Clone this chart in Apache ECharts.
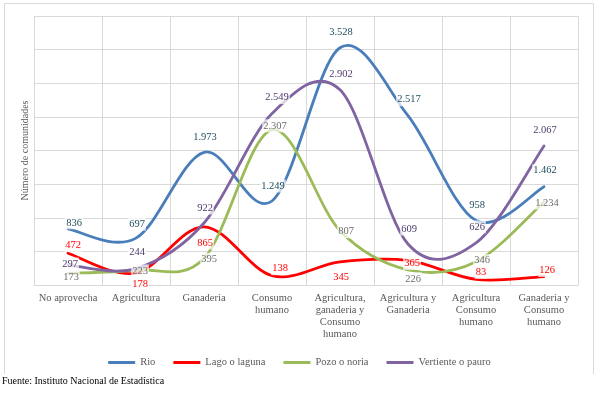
<!DOCTYPE html>
<html>
<head>
<meta charset="utf-8">
<script src="https://cdn.jsdelivr.net/npm/echarts@6/dist/echarts.min.js"></script>
<style>
  html, body { margin: 0; padding: 0; background: #fff; }
  #chart { width: 599px; height: 397px; }
</style>
</head>
<body>
<div id="chart"></div>
<script>
const categories = [
  "No aprovecha",
  "Agricultura",
  "Ganaderia",
  "Consumo\nhumano",
  "Agricultura,\nganaderia y\nConsumo\nhumano",
  "Agricultura y\nGanaderia",
  "Agricultura\nConsumo\nhumano",
  "Ganaderia y\nConsumo\nhumano",
];

const rio = [836, 697, 1973, 1249, 3528, 2517, 958, 1462];
const lago = [472, 178, 865, 138, 345, 365, 83, 126];
const pozo = [173, 223, 395, 2307, 807, 226, 346, 1234];
const vertiente = [297, 244, 922, 2549, 2902, 609, 626, 2067];

// label nudges (px) so the labels sit like in the original
const rioOffsets = [[6, -6], [1, -14], [1, -15], [1, -15], [1, -15], [1, -16], [1, -15], [1, -16]];
const lagoOffsets = [[5, -8], [4, 11], [1, 16], [8, -7], [1, 15], [4, 3], [5, -7], [3, -6]];
const pozoOffsets = [[3, 4], [4, 1], [5, 1], [3, -4], [6, 1], [5, 9], [6, -1], [3, 1]];
const vertienteOffsets = [[2, -1], [1, -16], [1, -15], [5, -16], [1, -16], [1, -15], [1, -16], [1, -16]];

const serif = "Liberation Serif";

// 3528 -> "3.528"
const fmt = (v) => String(v).replace(/\B(?=(\d{3})+(?!\d))/g, ".");

// Excel style smoothed line (catmull-rom through the points)
function curveSeries(name, values, color) {
  return {
    name: name,
    type: "custom",
    z: 1,
    silent: true,
    data: values.map((v, i) => [i, v]),
    renderItem: (params, api) => {
      if (params.dataIndex !== 0) return null;
      const p = values.map((v, i) => api.coord([i, v]));
      let d = "M" + p[0][0] + " " + p[0][1];
      for (let i = 0; i < p.length - 1; i++) {
        const p0 = p[Math.max(i - 1, 0)];
        const p1 = p[i];
        const p2 = p[i + 1];
        const p3 = p[Math.min(i + 2, p.length - 1)];
        const c1 = [p1[0] + (p2[0] - p0[0]) / 6, p1[1] + (p2[1] - p0[1]) / 6];
        const c2 = [p2[0] - (p3[0] - p1[0]) / 6, p2[1] - (p3[1] - p1[1]) / 6];
        d += " C" + c1[0] + " " + c1[1] + " " + c2[0] + " " + c2[1] + " " + p2[0] + " " + p2[1];
      }
      return {
        type: "path",
        shape: { pathData: d },
        style: { stroke: color, lineWidth: 2.8, fill: null, lineCap: "round" },
      };
    },
  };
}

// invisible line carrying the data labels and the legend entry
function labelSeries(name, values, offsets, lineColor, labelColor) {
  return {
    name: name,
    type: "line",
    z: 3,
    symbol: "circle",
    symbolSize: 1,
    showSymbol: true,
    lineStyle: { opacity: 0 },
    itemStyle: { color: lineColor },
    data: values.map((v, i) => ({
      value: v,
      label: { offset: offsets[i] },
    })),
    label: {
      show: true,
      position: "inside",
      formatter: (p) => fmt(p.value),
      color: labelColor,
      fontFamily: serif,
      fontSize: 10.5,
      backgroundColor: "rgba(255,255,255,0.72)",
      padding: [1, 1],
    },
    emphasis: { disabled: true },
  };
}

const chart = echarts.init(document.getElementById("chart"));
chart.setOption({
  animation: false,
  grid: { left: 34, right: 21, top: 16, bottom: 112 },
  legend: {
    top: 352,
    left: "center",
    icon: "rect",
    itemWidth: 27,
    itemHeight: 3,
    itemGap: 18,
    textStyle: { fontFamily: serif, fontSize: 10.5, color: "#595959" },
    data: ["Rio", "Lago o laguna", "Pozo o noria", "Vertiente o pauro"],
  },
  xAxis: {
    type: "category",
    data: categories,
    boundaryGap: true,
    axisLine: { lineStyle: { color: "#d9d9d9" } },
    axisTick: { show: false },
    splitLine: { show: true, lineStyle: { color: "#d9d9d9" } },
    axisLabel: {
      interval: 0,
      margin: 7,
      fontFamily: serif,
      fontSize: 10.5,
      lineHeight: 12,
      color: "#595959",
    },
  },
  yAxis: {
    type: "value",
    min: 0,
    max: 4000,
    interval: 500,
    name: "Número de comunidades",
    nameLocation: "middle",
    nameRotate: 90,
    nameGap: 4,
    nameTextStyle: { fontFamily: serif, fontSize: 10, color: "#595959" },
    axisLine: { show: false },
    axisTick: { show: false },
    axisLabel: { show: false },
    splitLine: { lineStyle: { color: "#d9d9d9" } },
  },
  graphic: [
    {
      type: "polyline",
      shape: { points: [[4.5, 374], [4.5, 3.5], [593.5, 3.5], [593.5, 374]] },
      style: { stroke: "#d9d9d9", fill: null, lineWidth: 1 },
      silent: true,
    },
    {
      type: "text",
      left: 2,
      top: 376,
      style: {
        text: "Fuente: Instituto Nacional de Estadística",
        font: "10px 'Liberation Serif'",
        fill: "#000",
      },
    },
  ],
  series: [
    labelSeries("Rio", rio, rioOffsets, "#4a7ebb", "#1f4e5f"),
    labelSeries("Lago o laguna", lago, lagoOffsets, "#ff0000", "#ff0000"),
    labelSeries("Pozo o noria", pozo, pozoOffsets, "#9bbb59", "#6d6d6d"),
    labelSeries("Vertiente o pauro", vertiente, vertienteOffsets, "#8064a2", "#4f3a6b"),
    curveSeries("Rio", rio, "#4a7ebb"),
    curveSeries("Lago o laguna", lago, "#ff0000"),
    curveSeries("Pozo o noria", pozo, "#9bbb59"),
    curveSeries("Vertiente o pauro", vertiente, "#8064a2"),
  ],
});
</script>
</body>
</html>
